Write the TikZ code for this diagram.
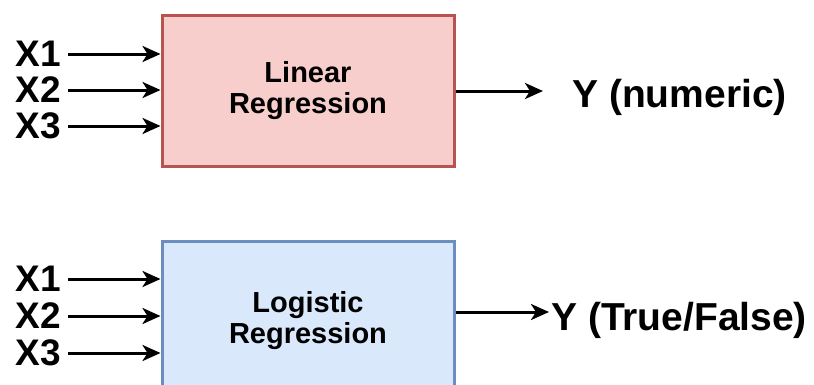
\documentclass[tikz,border=0pt]{standalone}
\usepackage{fontspec}
\setmainfont{Liberation Sans}
\usetikzlibrary{arrows.meta}
\definecolor{redfill}{HTML}{F8CECC}
\definecolor{redline}{HTML}{B85450}
\definecolor{bluefill}{HTML}{DAE8FC}
\definecolor{blueline}{HTML}{6C8EBF}
\tikzset{
  modelbox/.style={draw, line width=3pt, minimum width=292pt, inner sep=0pt, align=center,
    font=\fontsize{29}{31}\selectfont\bfseries},
  redbox/.style={modelbox, fill=redfill, draw=redline},
  bluebox/.style={modelbox, fill=bluefill, draw=blueline},
  xlab/.style={inner sep=0pt, anchor=east, font=\fontsize{37}{42}\selectfont\bfseries},
  ylab/.style={inner sep=0pt, anchor=base west, font=\fontsize{39}{45}\selectfont\bfseries},
  arr/.style={-{Stealth[length=18pt,width=16pt,inset=5pt]}, line width=3pt, black},
}
\begin{document}
\begin{tikzpicture}[x=1pt,y=-1pt]
\useasboundingbox (0,0) rectangle (814,384);
% boxes
\node[redbox, minimum height=151pt] (lin) at (308,90.5) {Linear\\Regression};
\node[bluebox, minimum height=160pt] (log) at (308,321) {Logistic\\Regression};
% input labels (top)
\node[xlab] (a1) at (61,54) {X1};
\node[xlab] (a2) at (61,90) {X2};
\node[xlab] (a3) at (61,126) {X3};
% input labels (bottom)
\node[xlab] (b1) at (61,279) {X1};
\node[xlab] (b2) at (61,316) {X2};
\node[xlab] (b3) at (61,353) {X3};
% outputs
\node[ylab] (ylin) at (572,107) {Y (numeric)};
\node[ylab] (ylog) at (551,330) {Y (True/False)};
\coordinate (o1) at (543,91);
\coordinate (o2) at (549,312);
% input arrows
\foreach \n in {a1,a2,a3} {
  \draw[arr] ([xshift=7pt]\n.east) -- (\n.east -| lin.west);
}
\foreach \n in {b1,b2,b3} {
  \draw[arr] ([xshift=7pt]\n.east) -- (\n.east -| log.west);
}
% output arrows
\draw[arr] (lin.east |- o1) -- (o1);
\draw[arr] (log.east |- o2) -- (o2);
\end{tikzpicture}
\end{document}
